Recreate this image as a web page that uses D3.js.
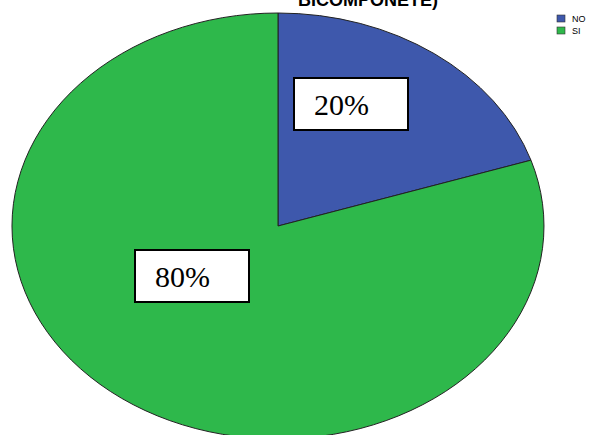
<!DOCTYPE html>
<html><head><meta charset="utf-8">
<script src="https://cdn.jsdelivr.net/npm/d3@7/dist/d3.min.js"></script>
<style>body{margin:0;background:#fff}svg{display:block}</style>
</head><body>
<svg id="c" width="593" height="435"></svg>
<script>
const categories = ["NO", "SI"];
const values = [20, 80];
const labels = ["20%", "80%"];
const colors = ["#3e58ac", "#2eb84b"];

const svg = d3.select("#c");
const cx = 278, cy = 226, rx = 266, ry = 213;

svg.append("text").attr("x", 368).attr("y", 6).attr("text-anchor", "middle")
  .attr("font-family", "Liberation Sans, Arial, sans-serif").attr("font-weight", "bold")
  .attr("font-size", 18).text("BICOMPONETE)");

const pie = d3.pie().sort(null).value(d => d)(values);
const arc = d3.arc().innerRadius(0).outerRadius(1);
const g = svg.append("g").attr("transform", `translate(${cx},${cy}) scale(${rx},${ry})`);
g.selectAll("path").data(pie).join("path")
  .attr("d", arc)
  .attr("fill", (d, i) => colors[i])
  .attr("stroke", "#222").attr("stroke-width", 1)
  .attr("vector-effect", "non-scaling-stroke");

// label boxes (layout offsets from centre)
const labelPos = [[73, -122], [-86, 50]];
const bw = 114, bh = 52;
labels.forEach((t, i) => {
  const x = cx + labelPos[i][0], y = cy + labelPos[i][1];
  svg.append("rect").attr("x", x - bw/2).attr("y", y - bh/2).attr("width", bw).attr("height", bh)
    .attr("fill", "#fff").attr("stroke", "#000").attr("stroke-width", 2);
  svg.append("text").attr("x", x - bw/2 + 20).attr("y", y + 11)
    .attr("font-family", "Liberation Serif, Times New Roman, serif").attr("font-size", 30)
    .attr("fill", "#000").text(t);
});

// legend
const lg = svg.append("g");
categories.forEach((c, i) => {
  lg.append("rect").attr("x", 557).attr("y", 15 + i * 12).attr("width", 8).attr("height", 7)
    .attr("fill", colors[i]).attr("stroke", "#333").attr("stroke-width", 0.6);
  lg.append("text").attr("x", 572).attr("y", 22 + i * 12)
    .attr("font-family", "Liberation Sans, Arial, sans-serif").attr("font-size", 9)
    .attr("fill", "#000").text(c);
});
</script>
</body></html>
